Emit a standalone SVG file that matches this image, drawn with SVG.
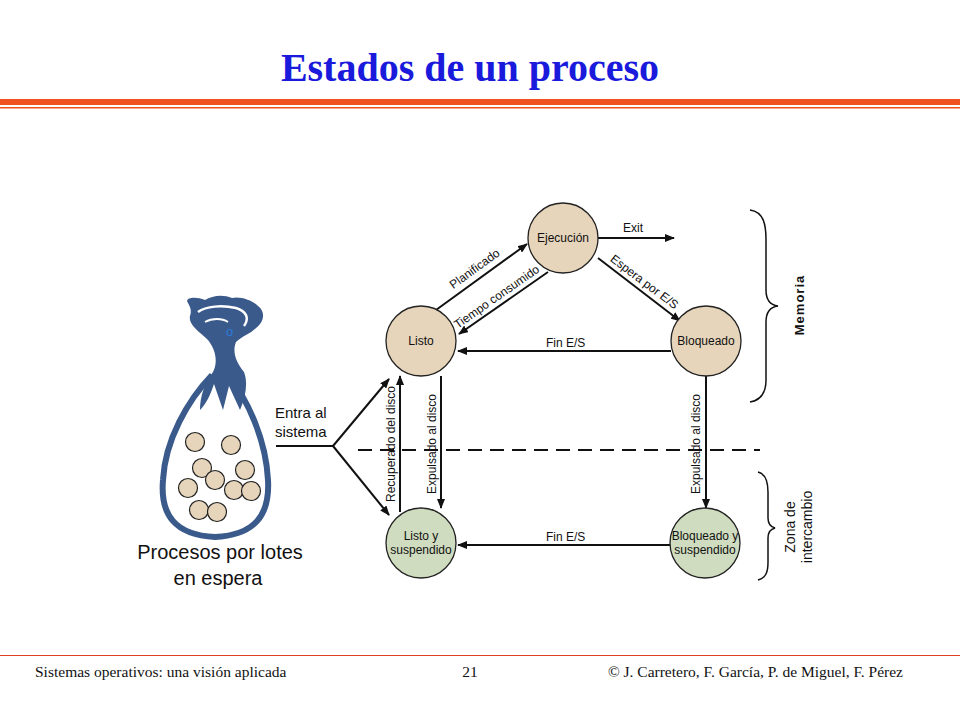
<svg xmlns="http://www.w3.org/2000/svg" width="960" height="720" viewBox="0 0 960 720">
<defs>
<marker id="ah" markerWidth="10" markerHeight="8" refX="9" refY="4" orient="auto" markerUnits="userSpaceOnUse"><path d="M0,0 L10,4 L0,8 Z" fill="#111"/></marker>
<style>
.st{stroke:#222;stroke-width:1.3}
.mem{fill:#e6d5bb}
.swp{fill:#cfdcbf}
.t{font-family:"Liberation Sans",Arial,sans-serif;font-size:12px;fill:#111}
.c{stroke:#111;stroke-width:2;fill:none;marker-end:url(#ah)}
.l{stroke:#111;stroke-width:2;fill:none}
.ft{font-family:"Liberation Serif","Times New Roman",serif;font-size:15.5px;fill:#111}
.ball{fill:#e6d5bb;stroke:#222;stroke-width:1.2}
</style>
</defs>
<rect width="960" height="720" fill="#fff"/>
<text x="470" y="81" text-anchor="middle" font-family="Liberation Serif,'Times New Roman',serif" font-weight="bold" font-size="40" fill="#1a1adc">Estados de un proceso</text>
<rect x="0" y="99" width="960" height="6" fill="#f05020"/>
<rect x="0" y="107" width="960" height="1.5" fill="#f05020"/>
<rect x="0" y="655" width="960" height="1" fill="#e04020"/>
<text class="ft" x="35" y="677">Sistemas operativos: una visión aplicada</text>
<text class="ft" x="470" y="677" text-anchor="middle">21</text>
<text class="ft" x="903" y="677" text-anchor="end">© J. Carretero, F. García, P. de Miguel, F. Pérez</text>

<g id="bag">
<path d="M212,375 C188,400 165,440 163,480 C160,515 175,535 215,537 C255,535 270,515 268,480 C266,440 248,400 228,375" fill="#fff" stroke="#3a5a8c" stroke-width="6"/>
<path d="M188,303 C184,298 195,296 205,300 C212,296 222,294 232,298 C240,296 252,300 258,306 C266,312 264,322 256,328 C250,334 242,336 236,342 C232,352 236,362 244,372 C248,382 246,396 240,410 L229,386 L223,410 L214,384 C210,396 206,404 200,410 C200,396 205,382 213,372 C218,362 216,350 208,340 C200,332 188,325 190,316 C192,310 190,307 188,303 Z" fill="#3a5a8c"/>
<path d="M198,312 C206,306 222,305 236,308 C246,311 250,318 244,326" fill="none" stroke="#fff" stroke-width="2.5"/>
<path d="M205,322 C212,318 222,318 228,322" fill="none" stroke="#fff" stroke-width="2"/>
<text x="226" y="336" font-family="Liberation Sans,sans-serif" font-size="13" fill="#2a7ad8">o</text>
<circle class="ball" cx="195" cy="442" r="9.5"/><circle class="ball" cx="231" cy="445" r="9.5"/>
<circle class="ball" cx="202" cy="468" r="9.5"/><circle class="ball" cx="245" cy="470" r="9.5"/>
<circle class="ball" cx="215" cy="480" r="9.5"/><circle class="ball" cx="188" cy="488" r="9.5"/>
<circle class="ball" cx="234" cy="490" r="9.5"/><circle class="ball" cx="251" cy="491" r="9.5"/>
<circle class="ball" cx="199" cy="510" r="9.5"/><circle class="ball" cx="217" cy="512" r="9.5"/>
<text x="220" y="559" text-anchor="middle" font-family="Liberation Sans,sans-serif" font-size="20" fill="#111">Procesos por lotes</text>
<text x="218" y="585" text-anchor="middle" font-family="Liberation Sans,sans-serif" font-size="20" fill="#111">en espera</text>
</g>

<g id="connectors">
<line class="c" x1="436" y1="310" x2="527" y2="244"/>
<line class="c" x1="548" y1="272" x2="459" y2="334"/>
<line class="c" x1="598" y1="258" x2="680" y2="321"/>
<line class="c" x1="598" y1="238" x2="674" y2="238"/>
<line class="c" x1="671" y1="351" x2="458" y2="351"/>
<line class="c" x1="670" y1="545" x2="458" y2="545"/>
<line class="c" x1="400" y1="512" x2="400" y2="376"/>
<line class="c" x1="441" y1="376" x2="441" y2="508"/>
<line class="c" x1="706" y1="376" x2="706" y2="508"/>
<line class="l" x1="276" y1="446" x2="333" y2="446"/>
<line class="c" x1="333" y1="446" x2="389" y2="379"/>
<line class="c" x1="333" y1="446" x2="389" y2="515"/>
<line x1="358" y1="450" x2="760" y2="450" stroke="#111" stroke-width="2" stroke-dasharray="14,8"/>
<text class="t" x="623" y="232" font-size="11">Exit</text>
<text class="t" x="546" y="347">Fin E/S</text>
<text class="t" x="546" y="541">Fin E/S</text>
<text class="t" transform="translate(477,272) rotate(-36)" text-anchor="middle" font-size="9.5">Planificado</text>
<text class="t" transform="translate(499,300) rotate(-35)" text-anchor="middle" font-size="9.5">Tiempo consumido</text>
<text class="t" transform="translate(642,285) rotate(37)" text-anchor="middle" font-size="9.5">Espera por E/S</text>
<text class="t" transform="translate(395,444) rotate(-90)" text-anchor="middle">Recuperado del disco</text>
<text class="t" transform="translate(436,444) rotate(-90)" text-anchor="middle">Expulsado al disco</text>
<text class="t" transform="translate(700,444) rotate(-90)" text-anchor="middle">Expulsado al disco</text>
<text x="275" y="418" font-family="Liberation Sans,sans-serif" font-size="15" fill="#111">Entra al</text>
<text x="275" y="437" font-family="Liberation Sans,sans-serif" font-size="15" fill="#111">sistema</text>
</g>

<g id="ejecucion"><circle class="mem st" cx="563" cy="238" r="35"/><text class="t" x="563" y="242" text-anchor="middle">Ejecución</text></g>
<g id="listo"><circle class="mem st" cx="421" cy="341" r="35"/><text class="t" x="421" y="345" text-anchor="middle">Listo</text></g>
<g id="bloqueado"><circle class="mem st" cx="706" cy="341" r="35"/><text class="t" x="706" y="345" text-anchor="middle">Bloqueado</text></g>
<g id="listo-susp"><circle class="swp st" cx="421" cy="543" r="35"/><text class="t" x="421" y="540" text-anchor="middle" font-size="10.5">Listo y</text><text class="t" x="421" y="554" text-anchor="middle" font-size="10.5">suspendido</text></g>
<g id="bloq-susp"><circle class="swp st" cx="705" cy="543" r="35"/><text class="t" x="705" y="540" text-anchor="middle" font-size="10.5">Bloqueado y</text><text class="t" x="705" y="554" text-anchor="middle" font-size="10.5">suspendido</text></g>

<g id="braces" fill="none" stroke="#111" stroke-width="1.5">
<path d="M750,210 C764,212 766,225 766,240 L766,290 C766,300 770,305 778,306 C770,307 766,312 766,322 L766,380 C766,392 762,400 750,402"/>
<path d="M758,472 C766,474 768,482 768,492 L768,518 C768,524 771,527 775,528 C771,529 768,532 768,538 L768,562 C768,572 766,578 758,580"/>
</g>
<text transform="translate(804,305) rotate(-90)" text-anchor="middle" font-family="Liberation Sans,sans-serif" font-size="13" font-weight="bold" letter-spacing="1" fill="#111">Memoria</text>
<text transform="translate(795,527) rotate(-90)" text-anchor="middle" font-family="Liberation Sans,sans-serif" font-size="14" fill="#111">Zona de</text>
<text transform="translate(812,527) rotate(-90)" text-anchor="middle" font-family="Liberation Sans,sans-serif" font-size="14" fill="#111">intercambio</text>
</svg>
